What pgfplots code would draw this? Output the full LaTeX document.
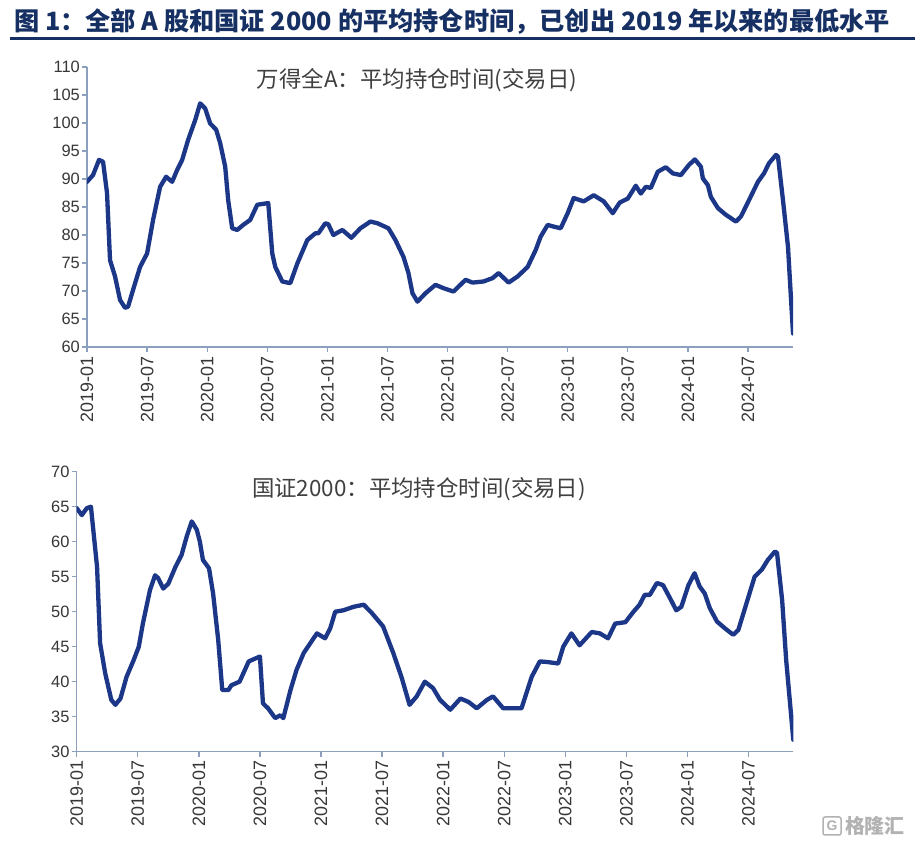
\documentclass[border=0pt]{standalone}
\usepackage{pgfplots}
\pgfplotsset{compat=1.18}
\usepackage{fontspec}
\setmainfont{Liberation Sans}
\newfontfamily\cjk{Noto Sans CJK SC}
\definecolor{linec}{RGB}{28,55,135}
\definecolor{axisc}{RGB}{140,160,190}
\definecolor{tickc}{RGB}{55,55,55}
\definecolor{titlec}{RGB}{22,48,100}
\definecolor{subc}{RGB}{64,64,64}
\pgfplotsset{
  panel/.style={
    scale only axis, anchor=south west,
    xmin=0,
    xtick={0,6,12,18,24,30,36,42,48,54,60,66},
    xticklabels={2019-01,2019-07,2020-01,2020-07,2021-01,2021-07,2022-01,2022-07,2023-01,2023-07,2024-01,2024-07},
    xticklabel style={rotate=90, anchor=east, inner sep=4bp, font=\fontsize{18}{18}\selectfont},
    yticklabel style={inner sep=2bp, font=\fontsize{16.5}{16.5}\selectfont},
    ticklabel style={text=tickc},
    /pgf/number format/assume math mode=true,
    axis x line*=bottom, axis y line*=left,
    axis line style={-, color=axisc, line width=1.3bp},
    tick style={color=axisc, line width=1.3bp},
    tick align=outside, major tick length=5bp,
  },
  serie/.style={color=linec, no markers, line width=4.3bp, line join=round, line cap=round},
}
\pgfplotstableread{
m v
0 89.5
0.6 90.7
1.2 93.4
1.6 93.1
2.0 87.5
2.3 75.5
2.8 72.6
3.3 68.4
3.8 67.0
4.1 67.2
4.6 70.2
5.3 74.3
6.0 76.7
6.6 82.7
7.3 88.6
7.9 90.4
8.5 89.5
9.0 91.6
9.5 93.4
10.1 97.0
10.8 100.5
11.3 103.5
11.8 102.6
12.3 99.9
12.9 98.8
13.3 96.4
13.8 92.2
14.1 86.2
14.5 81.2
15.0 80.9
15.6 81.8
16.3 82.7
17.0 85.4
18.1 85.7
18.5 76.7
18.8 74.3
19.5 71.7
20.3 71.4
21.0 74.9
22.0 79.1
22.8 80.3
23.1 80.3
23.8 82.1
24.1 81.9
24.6 80.0
25.5 80.9
26.4 79.5
27.3 81.2
28.3 82.4
29.0 82.1
30.1 81.2
30.8 79.1
31.6 76.1
32.1 73.2
32.5 69.6
33.0 68.1
33.8 69.6
34.8 71.1
35.6 70.5
36.6 69.9
37.8 72.0
38.5 71.5
39.6 71.7
40.5 72.3
41.1 73.2
42.1 71.5
43.0 72.6
44.0 74.3
44.8 77.3
45.3 79.7
46.0 81.8
46.6 81.5
47.3 81.2
48.0 83.9
48.6 86.6
49.6 86.0
50.6 87.1
51.6 86.0
52.5 83.9
53.2 85.8
54.0 86.5
54.8 88.8
55.3 87.4
55.8 88.6
56.3 88.4
57.0 91.3
57.8 92.1
58.5 91.0
59.3 90.7
60.1 92.5
60.7 93.5
61.3 92.2
61.5 90.1
62.0 88.9
62.3 86.8
63.0 84.8
63.8 83.6
64.8 82.4
65.3 83.3
66.1 86.2
67.0 89.5
67.6 91.0
68.1 92.8
68.8 94.3
69.0 94.0
69.5 86.2
70.0 77.9
70.5 62.4
}\wind
\pgfplotstableread{
m v
0 64.8
0.5 63.8
1.0 64.8
1.4 65.0
1.6 62.1
2.0 56.4
2.3 45.5
2.8 41.2
3.4 37.4
3.8 36.7
4.3 37.6
4.9 40.7
5.6 43.1
6.1 45.0
6.5 48.3
7.2 53.1
7.7 55.2
8.0 54.8
8.5 53.3
9.0 54.0
9.7 56.4
10.3 58.1
10.8 60.7
11.3 62.9
11.8 61.7
12.1 60.0
12.4 57.4
13.0 56.2
13.4 52.6
13.9 46.0
14.3 38.8
14.9 38.8
15.2 39.5
16.0 40.0
16.9 42.9
18.0 43.6
18.3 36.9
18.8 36.2
19.5 34.8
20.0 35.2
20.3 34.8
21.0 38.8
21.6 41.7
22.3 44.1
23.6 46.9
24.4 46.2
24.9 47.6
25.4 50.0
26.2 50.2
27.2 50.7
28.2 51.0
29.0 49.8
30.1 47.9
31.1 44.1
31.9 40.7
32.7 36.7
33.4 37.9
34.2 40.0
35.0 39.1
35.7 37.4
36.7 36.0
37.7 37.6
38.5 37.1
39.3 36.2
40.3 37.4
40.9 37.9
41.9 36.2
42.9 36.2
43.7 36.2
44.7 40.7
45.5 42.9
46.3 42.8
47.3 42.6
47.8 45.0
48.6 46.9
49.4 45.2
50.6 47.1
51.4 46.9
52.2 46.2
52.9 48.3
53.9 48.5
54.7 50.0
55.3 51.0
55.8 52.4
56.3 52.4
57.0 54.1
57.6 53.8
58.3 51.9
58.9 50.2
59.4 50.7
60.1 53.8
60.7 55.5
61.2 53.6
61.7 52.6
62.2 50.5
62.9 48.6
63.7 47.6
64.5 46.7
65.0 47.4
65.8 51.2
66.6 55.0
67.3 56.0
67.9 57.4
68.6 58.6
68.8 58.4
69.3 51.7
69.7 43.1
70.4 31.7
}\gz
\begin{document}
\begin{tikzpicture}
\path[use as bounding box] (0,0) rectangle (915bp,844bp);
\fill[white] (0,0) rectangle (915bp,844bp);
\node[anchor=west, text=titlec, inner sep=0pt] at (14bp,822bp)
  {\fontsize{25.3}{25.3}\selectfont\cjk\bfseries 图 1：全部 A 股和国证 2000 的平均持仓时间，已创出 2019 年以来的最低水平};
\draw[line width=3bp, color=titlec] (10bp,805bp) -- (915bp,805bp);
\begin{axis}[panel, at={(87bp,497bp)}, width=706bp, height=280bp,
  xmax=70.5, ymin=60, ymax=110, ytick={60,65,...,110}]
\addplot[serie] table[x=m, y=v] {\wind};
\end{axis}
\node[text=subc, inner sep=0pt] at (417bp,764bp)
  {\fontsize{22.5}{22.5}\selectfont\cjk 万得全A：平均持仓时间(交易日)};
\begin{axis}[panel, at={(76.7bp,92.3bp)}, width=716.6bp, height=280bp,
  xmax=70.4, ymin=30, ymax=70, ytick={30,35,...,70}]
\addplot[serie] table[x=m, y=v] {\gz};
\end{axis}
\node[text=subc, inner sep=0pt] at (419bp,355bp)
  {\fontsize{22.5}{22.5}\selectfont\cjk 国证2000：平均持仓时间(交易日)};
\node[text=black!30, anchor=east, inner sep=0pt] at (905bp,18bp)
  {\fontsize{20}{20}\selectfont\cjk\bfseries 格隆汇};
\draw[black!30, line width=1.5bp, rounded corners=2bp] (823bp,9bp) rectangle (841bp,27bp);
\node[text=black!30, inner sep=0pt] at (832bp,18bp) {\fontsize{14}{14}\selectfont\bfseries G};
\end{tikzpicture}
\end{document}
